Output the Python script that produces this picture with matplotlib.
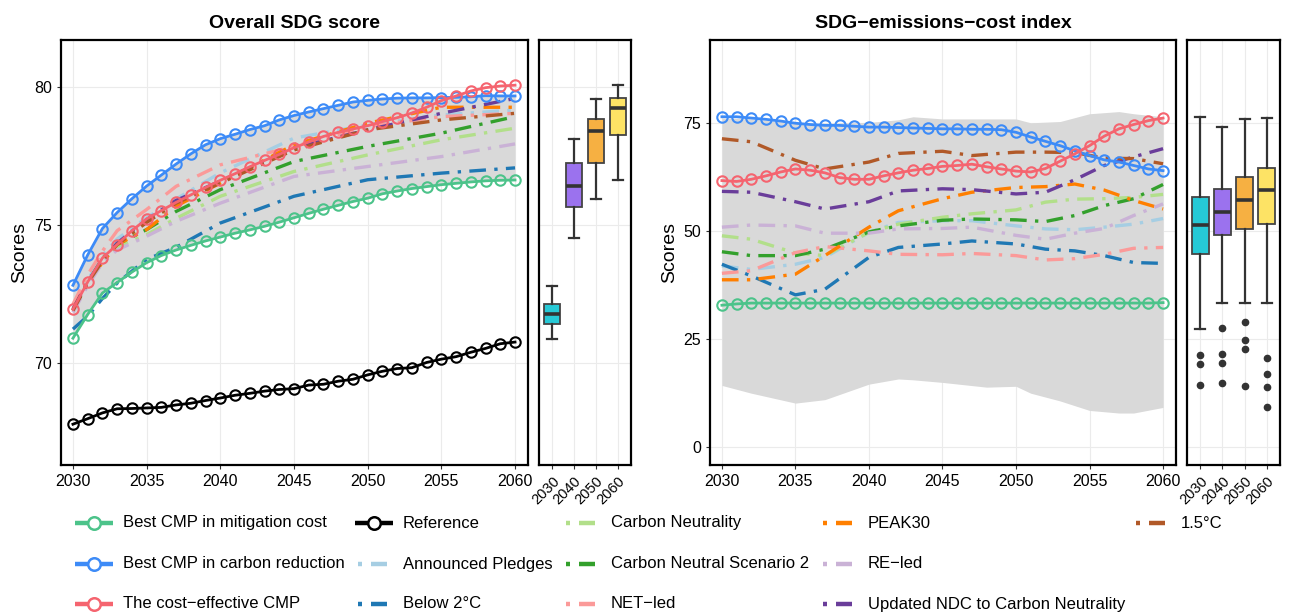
import numpy as np
import matplotlib
matplotlib.use("Agg")
import matplotlib.pyplot as plt
from matplotlib.lines import Line2D

plt.rcParams['font.family'] = ['Liberation Sans', 'DejaVu Sans']

# ---- data ----
years = list(range(2030, 2061))

# Overall SDG score, CMP lines (yearly)
sdg_mitigation = [70.90, 71.76, 72.54, 72.92, 73.30, 73.64, 73.90, 74.10, 74.27, 74.43, 74.57,
                  74.71, 74.83, 74.96, 75.11, 75.27, 75.43, 75.58, 75.72, 75.86, 75.98,
                  76.14, 76.24, 76.33, 76.40, 76.47, 76.52, 76.57, 76.61, 76.63, 76.64]
sdg_carbon = [72.82, 73.92, 74.88, 75.46, 75.96, 76.42, 76.82, 77.22, 77.59, 77.92, 78.14,
              78.30, 78.47, 78.61, 78.82, 78.98, 79.11, 79.23, 79.35, 79.47, 79.53,
              79.58, 79.61, 79.62, 79.62, 79.63, 79.64, 79.66, 79.70, 79.69, 79.69]
sdg_costeff = [71.95, 72.94, 73.81, 74.30, 74.80, 75.23, 75.53, 75.83, 76.10, 76.37, 76.63,
               76.87, 77.12, 77.35, 77.57, 77.81, 78.02, 78.22, 78.37, 78.49, 78.61,
               78.76, 78.90, 79.07, 79.28, 79.52, 79.69, 79.87, 79.99, 80.05, 80.08]
sdg_reference = [67.78, 67.98, 68.19, 68.34, 68.35, 68.37, 68.39, 68.48, 68.54, 68.64, 68.73,
                 68.83, 68.90, 68.98, 69.04, 69.07, 69.20, 69.23, 69.34, 69.41, 69.57,
                 69.70, 69.80, 69.83, 70.02, 70.14, 70.23, 70.39, 70.53, 70.70, 70.76]

# Overall SDG score, scenario lines
l_years = [2030, 2031, 2032, 2033, 2035, 2037, 2040, 2045, 2050, 2055, 2060]
sdg_scen = {
    "Announced Pledges": [72.00, 73.00, 73.90, 74.50, 75.27, 75.95, 76.90, 78.16, 78.64, 79.00, 79.18],
    "Below 2°C": [71.23, 71.70, 72.34, 72.90, 73.76, 74.20, 75.08, 76.05, 76.65, 76.89, 77.08],
    "Carbon Neutrality": [71.90, 72.90, 73.76, 74.20, 74.66, 75.25, 76.05, 76.95, 77.55, 78.10, 78.52],
    "Carbon Neutral Scenario 2": [71.90, 72.90, 73.80, 74.30, 74.84, 75.50, 76.29, 77.31, 77.86, 78.34, 78.94],
    "NET−led": [72.13, 73.20, 74.06, 74.80, 75.57, 76.41, 77.19, 77.86, 78.58, 78.94, 79.06],
    "PEAK30": [71.95, 72.95, 73.64, 74.30, 74.84, 75.69, 76.53, 77.92, 78.70, 79.28, 79.28],
    "RE−led": [71.83, 72.80, 73.64, 74.10, 74.60, 75.14, 75.80, 76.77, 77.13, 77.49, 77.95],
    "Updated NDC to Carbon Neutrality": [71.95, 72.95, 73.75, 74.35, 75.20, 75.90, 76.60, 77.80, 78.46, 79.06, 79.60],
    "1.5°C": [71.90, 72.90, 73.70, 74.30, 75.10, 75.80, 76.53, 77.73, 78.46, 78.82, 79.06],
}

# SDG-emissions-cost index, CMP lines (yearly)
idx_mitigation = [32.8, 33.1] + [33.3] * 28 + [33.4]
idx_carbon = [76.5, 76.5, 76.2, 75.9, 75.5, 75.0, 74.7, 74.5, 74.5, 74.3, 74.1,
              74.1, 74.0, 73.9, 73.8, 73.7, 73.7, 73.6, 73.6, 73.5, 72.9,
              71.8, 70.8, 69.8, 68.6, 67.5, 66.5, 66.0, 65.2, 64.4, 64.0]
idx_costeff = [61.7, 61.5, 62.0, 62.8, 63.7, 64.4, 64.1, 63.5, 62.4, 62.0, 62.0,
               62.8, 63.5, 64.1, 64.5, 65.0, 65.2, 65.5, 64.9, 64.4, 63.9,
               63.7, 64.5, 66.2, 67.9, 69.8, 72.0, 73.7, 74.7, 75.6, 76.2]

# index envelope (grey band)
band_years = [2030, 2032, 2035, 2037, 2040, 2042, 2043, 2045, 2048, 2050, 2051, 2053, 2055, 2057, 2058, 2060]
band_low = [14.2, 12.4, 10.1, 10.9, 14.5, 15.7, 15.5, 14.9, 13.8, 14.0, 12.4, 10.6, 8.4, 7.8, 7.8, 9.1]
band_high = [76.2, 76.0, 75.0, 75.0, 75.2, 75.8, 76.5, 76.0, 76.0, 76.0, 75.1, 75.4, 77.2, 77.7, 77.2, 76.5]

r_years = [2030, 2032, 2035, 2037, 2040, 2042, 2045, 2047, 2050, 2052, 2054, 2056, 2058, 2060]
idx_scen = {
    "Announced Pledges": [41.9, 41.1, 42.3, 43.9, 49.7, 52.0, 52.4, 52.4, 51.2, 50.5, 50.3, 50.9, 51.6, 52.9],
    "Below 2°C": [42.3, 39.6, 35.2, 36.5, 43.9, 46.2, 47.0, 47.7, 47.0, 45.8, 45.4, 44.3, 42.7, 42.5],
    "Carbon Neutrality": [48.9, 48.1, 44.9, 44.3, 49.7, 51.6, 53.2, 54.0, 54.9, 56.7, 57.4, 57.5, 57.8, 58.5],
    "Carbon Neutral Scenario 2": [45.2, 44.3, 44.3, 45.8, 49.8, 51.2, 52.5, 52.8, 52.6, 52.2, 53.6, 55.9, 57.5, 60.8],
    "NET−led": [40.2, 40.8, 45.0, 46.4, 45.4, 44.6, 44.5, 44.8, 44.3, 43.3, 43.6, 44.6, 46.0, 46.2],
    "PEAK30": [38.7, 38.7, 40.0, 44.3, 50.9, 54.7, 57.5, 59.0, 60.1, 60.3, 60.9, 59.5, 57.1, 55.1],
    "RE−led": [50.9, 51.4, 51.2, 49.5, 49.5, 50.5, 50.6, 50.9, 49.0, 48.1, 49.5, 50.6, 53.6, 56.3],
    "Updated NDC to Carbon Neutrality": [59.2, 59.0, 56.8, 55.1, 56.8, 59.3, 59.8, 59.6, 58.6, 59.0, 61.9, 65.2, 67.2, 69.1],
    "1.5°C": [71.4, 70.7, 66.4, 64.4, 66.0, 68.0, 68.5, 67.5, 68.3, 68.3, 68.2, 66.9, 66.8, 65.6],
}

# boxplot summaries: [whislo, q1, med, q3, whishi]
box_labels = ["2030", "2040", "2050", "2060"]
sdg_box = [[70.88, 71.41, 71.78, 72.15, 72.81],
           [74.55, 75.65, 76.42, 77.26, 78.14],
           [75.96, 77.27, 78.43, 78.86, 79.58],
           [76.65, 78.26, 79.24, 79.60, 80.10]]
idx_box = [[27.2, 44.6, 51.5, 57.8, 76.5],
           [33.3, 49.0, 54.5, 59.8, 74.1],
           [33.3, 50.4, 57.1, 62.5, 75.9],
           [33.3, 51.7, 59.5, 64.6, 76.2]]
idx_fliers = [[21.2, 19.1, 14.2],
              [27.6, 21.6, 19.4, 14.7],
              [29.0, 24.7, 22.7, 14.0],
              [20.5, 16.9, 13.9, 9.1]]

# ---- styles ----
cmp_colors = {"mit": "#4cc38a", "carb": "#3d8bf7", "cost": "#f5646f", "ref": "black"}
scen_colors = {
    "Announced Pledges": "#a6cee3", "Below 2°C": "#1f78b4", "Carbon Neutrality": "#b2df8a",
    "Carbon Neutral Scenario 2": "#33a02c", "NET−led": "#fb9a99", "PEAK30": "#ff7f00",
    "RE−led": "#cab2d6", "Updated NDC to Carbon Neutrality": "#6a3d9a", "1.5°C": "#b15928",
}
box_colors = ["#26c9d6", "#9b72ee", "#f6b042", "#fde365"]
dashdot = (0, (5, 2.5, 1, 2.5))
band_color = "#d9d9d9"
grid_color = "#ebebeb"

fig = plt.figure(figsize=(12.89, 6.15), dpi=100)
W, H = 1289, 615


def px_axes(x0, x1, y0, y1):
    return fig.add_axes([x0 / W, 1 - y1 / H, (x1 - x0) / W, (y1 - y0) / H])


ax1 = px_axes(61, 528, 40, 465)
bx1 = px_axes(539, 631, 40, 465)
ax2 = px_axes(710, 1176, 40, 465)
bx2 = px_axes(1187, 1280, 40, 465)

for a in (ax1, bx1, ax2, bx2):
    for s in a.spines.values():
        s.set_linewidth(1.6)
    a.grid(True, color=grid_color, lw=0.8)
    a.set_axisbelow(True)
    a.tick_params(labelsize=11.5, length=3, width=0.8, color="#333333")


def draw_cmp(ax, y, color):
    ax.plot(years, y, color=color, lw=2.0, marker="o", ms=7.5, mfc="none", mew=1.5, zorder=5)


# left panel
ax1.fill_between(years, sdg_mitigation, sdg_carbon, color=band_color, lw=0, zorder=1)
for name, vals in sdg_scen.items():
    ax1.plot(l_years, vals, color=scen_colors[name], lw=2.4, ls=dashdot, zorder=3)
draw_cmp(ax1, sdg_mitigation, cmp_colors["mit"])
draw_cmp(ax1, sdg_carbon, cmp_colors["carb"])
draw_cmp(ax1, sdg_costeff, cmp_colors["cost"])
draw_cmp(ax1, sdg_reference, cmp_colors["ref"])
ax1.set_xlim(2029.19, 2060.88)
ax1.set_ylim(66.3, 81.72)
ax1.set_xticks(range(2030, 2061, 5))
ax1.set_yticks([70, 75, 80])
ax1.set_ylabel("Scores", fontsize=14, labelpad=4)
ax1.set_title("Overall SDG score", fontsize=14, fontweight="bold", pad=9)

# right panel
ax2.fill_between(band_years, band_low, band_high, color=band_color, lw=0, zorder=1)
for name, vals in idx_scen.items():
    ax2.plot(r_years, vals, color=scen_colors[name], lw=2.4, ls=dashdot, zorder=3)
draw_cmp(ax2, idx_mitigation, cmp_colors["mit"])
draw_cmp(ax2, idx_carbon, cmp_colors["carb"])
draw_cmp(ax2, idx_costeff, cmp_colors["cost"])
ax2.set_xlim(2029.19, 2060.88)
ax2.set_ylim(-4.25, 94.3)
ax2.set_xticks(range(2030, 2061, 5))
ax2.set_yticks([0, 25, 50, 75])
ax2.set_ylabel("Scores", fontsize=14, labelpad=4)
ax2.set_title("SDG−emissions−cost index", fontsize=14, fontweight="bold", pad=9)


def draw_box(bx, summ, fliers, ylim):
    stats = []
    for i, s in enumerate(summ):
        stats.append(dict(whislo=s[0], q1=s[1], med=s[2], q3=s[3], whishi=s[4],
                          fliers=fliers[i] if fliers else [], label=box_labels[i]))
    parts = bx.bxp(stats, positions=range(len(stats)), widths=0.75, patch_artist=True,
                   showfliers=True,
                   boxprops=dict(edgecolor="#444444", lw=1.3),
                   medianprops=dict(color="#333333", lw=2.6),
                   whiskerprops=dict(color="#333333", lw=1.6),
                   capprops=dict(color="#333333", lw=1.6),
                   capwidths=0.45,
                   flierprops=dict(marker="o", mfc="#333333", mec="#333333", ms=4.5))
    for p, c in zip(parts["boxes"], box_colors):
        p.set_facecolor(c)
    bx.set_xlim(-0.6, 3.6)
    bx.set_ylim(*ylim)
    bx.tick_params(axis="y", length=0)
    bx.set_xticklabels(box_labels, rotation=45, ha="right", rotation_mode="anchor", fontsize=10.5)


draw_box(bx1, sdg_box, None, ax1.get_ylim())
bx1.set_yticks([70, 75, 80])
draw_box(bx2, idx_box, idx_fliers, ax2.get_ylim())
bx2.set_yticks([0, 25, 50, 75])
for b in (bx1, bx2):
    b.set_yticklabels([])

# ---- legend (drawn in figure pixels) ----
rows = [523, 564, 604]


def fx(x):
    return x / W


def fy(y):
    return 1 - y / H


def cmp_entry(x, row, color, label):
    y = fy(rows[row])
    fig.add_artist(Line2D([fx(x), fx(x + 38)], [y, y], color=color, lw=3.2, solid_capstyle="butt"))
    fig.add_artist(Line2D([fx(x + 19)], [y], color=color, marker="o", ms=9, mfc="white", mew=1.8))
    fig.text(fx(x + 48), y, label, fontsize=12, va="center", ha="left")


def scen_entry(x, row, color, label):
    y = fy(rows[row])
    fig.add_artist(Line2D([fx(x), fx(x + 4)], [y, y], color=color, lw=3.2, solid_capstyle="butt"))
    fig.add_artist(Line2D([fx(x + 13), fx(x + 29)], [y, y], color=color, lw=3.2, solid_capstyle="butt"))
    fig.text(fx(x + 45), y, label, fontsize=12, va="center", ha="left")


cmp_entry(75, 0, cmp_colors["mit"], "Best CMP in mitigation cost")
cmp_entry(75, 1, cmp_colors["carb"], "Best CMP in carbon reduction")
cmp_entry(75, 2, cmp_colors["cost"], "The cost−effective CMP")
cmp_entry(355, 0, "black", "Reference")
legend_cols = [(358, ["Announced Pledges", "Below 2°C"], 1),
               (566, ["Carbon Neutrality", "Carbon Neutral Scenario 2", "NET−led"], 0),
               (823, ["PEAK30", "RE−led", "Updated NDC to Carbon Neutrality"], 0),
               (1136, ["1.5°C"], 0)]
for x, names, r0 in legend_cols:
    for k, name in enumerate(names):
        scen_entry(x, r0 + k, scen_colors[name], name)

fig.savefig("out.png", dpi=100)
